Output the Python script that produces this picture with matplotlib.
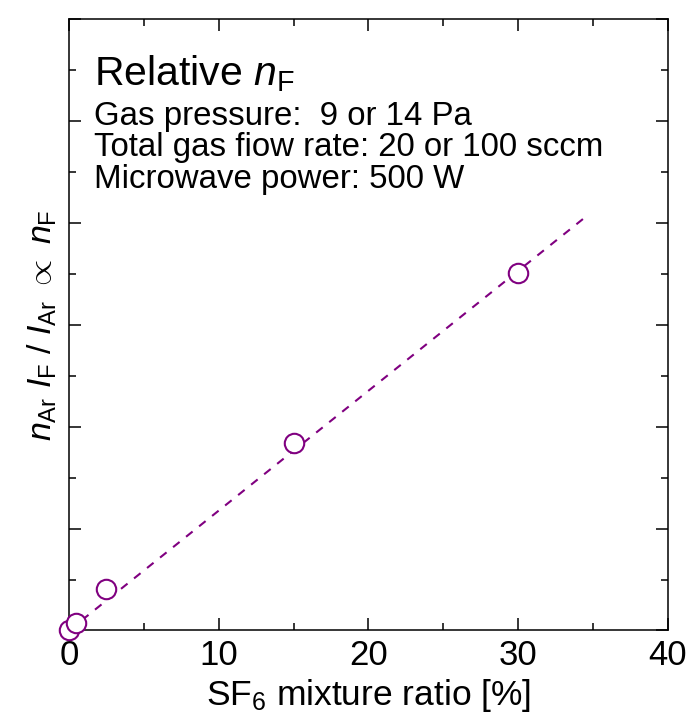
import matplotlib
matplotlib.use("Agg")
import matplotlib.pyplot as plt
from matplotlib.ticker import MultipleLocator, NullFormatter

# measured points (SF6 ratio %, relative n_F, arbitrary units)
sf6_ratio = [0.0, 0.5, 2.5, 15.0, 30.0]
rel_nF = [0.0, 0.074, 0.41, 1.84, 3.51]
# dashed guide line end points
fit_x = [0.0, 34.6]
fit_y = [0.0, 4.07]

info_lines = ["Gas pressure:  9 or 14 Pa",
              "Total gas fiow rate: 20 or 100 sccm",
              "Microwave power: 500 W"]

plt.rcParams.update({
    "font.family": ["Liberation Sans", "DejaVu Sans"],
    "mathtext.fontset": "custom",
    "mathtext.rm": "Liberation Sans",
    "mathtext.it": "Liberation Sans:italic",
    "mathtext.bf": "Liberation Sans:bold",
    "axes.linewidth": 1.1,
})

purple = "#800080"

fig = plt.figure(figsize=(6.94, 7.19), dpi=100)
ax = fig.add_axes([0.0994, 0.1231, 0.8631, 0.8505])

ax.plot(fit_x, fit_y, color=purple, lw=1.5, ls=(0, (4, 4)))
ax.plot(sf6_ratio, rel_nF, "o", ms=14, mfc="white", mec=purple, mew=1.5,
        ls="none", clip_on=False, zorder=3)

ax.set_xlim(0, 40)
ax.set_ylim(0, 6)
ax.xaxis.set_major_locator(MultipleLocator(10))
ax.xaxis.set_minor_locator(MultipleLocator(5))
ax.yaxis.set_major_locator(MultipleLocator(1))
ax.yaxis.set_minor_locator(MultipleLocator(0.5))
ax.yaxis.set_major_formatter(NullFormatter())
ax.tick_params(which="both", direction="in", top=True, right=True,
               width=1.1, labelsize=25, pad=6)
ax.tick_params(which="major", length=8.5)
ax.tick_params(which="minor", length=5)

ax.set_xlabel("SF$_6$ mixture ratio [%]", fontsize=25.5, labelpad=4)
ax.set_ylabel(r"$n_\mathrm{Ar}$ $I_\mathrm{F}$ / $I_\mathrm{Ar}$ $\propto$ $n_\mathrm{F}$",
              fontsize=24.5, labelpad=1)

ax.text(0.042, 0.892, r"Relative $n_\mathrm{F}$", transform=ax.transAxes,
        fontsize=29.5, va="baseline")
for i, line in enumerate(info_lines):
    ax.text(0.042, 0.827 - i * 0.0515, line, transform=ax.transAxes,
            fontsize=23.8, va="baseline")

fig.savefig("out.png", dpi=100)
